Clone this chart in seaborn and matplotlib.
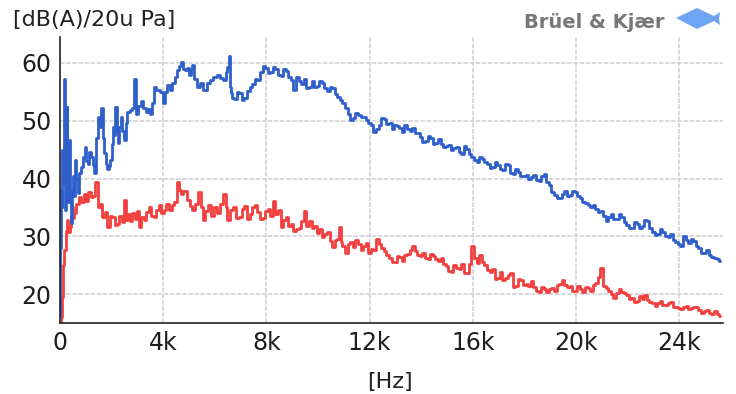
import matplotlib
matplotlib.use("Agg")
import numpy as np
import pandas as pd
import seaborn as sns
import matplotlib.pyplot as plt
from matplotlib.patches import Polygon

# frequency in kHz, level in dB(A)
blue_khz = [0.00, 0.02, 0.04, 0.08, 0.10, 0.13, 0.15, 0.17, 0.20, 0.22, 0.25, 0.27, 0.30, 0.32, 0.35,
            0.37, 0.40, 0.43, 0.47, 0.52, 0.56, 0.61, 0.66, 0.71, 0.78, 0.84, 0.92, 1.00, 1.05, 1.10,
            1.17, 1.23, 1.30, 1.36, 1.42, 1.49, 1.56, 1.65, 1.70, 1.74, 1.80, 1.85, 1.92, 1.98, 2.03,
            2.07, 2.12, 2.17, 2.22, 2.26, 2.33, 2.39, 2.45, 2.52, 2.58, 2.65, 2.75, 2.85, 2.91, 2.97,
            3.08, 3.19, 3.27, 3.36, 3.45, 3.55, 3.62, 3.68, 3.80, 3.94, 4.04, 4.12, 4.20, 4.30, 4.39,
            4.50, 4.59, 4.66, 4.72, 4.80, 4.91, 4.97, 5.04, 5.10, 5.17, 5.25, 5.36, 5.48, 5.62, 5.75,
            5.88, 6.00, 6.14, 6.27, 6.40, 6.46, 6.52, 6.56, 6.60, 6.65,
            6.7, 6.8, 6.9, 7.0, 7.1, 7.2, 7.3, 7.4, 7.5, 7.6, 7.7, 7.8, 7.9, 8.0, 8.1, 8.2, 8.3,
            8.4, 8.5, 8.6, 8.7, 8.8, 8.9, 9.0, 9.1, 9.2, 9.3, 9.4, 9.5, 9.6, 9.7, 9.8, 9.9, 10.0,
            10.1, 10.2, 10.3, 10.4, 10.5, 10.6, 10.7, 10.8, 10.9, 11.0, 11.1, 11.2, 11.3, 11.4, 11.5,
            11.6, 11.7, 11.8, 11.9, 12.0, 12.1, 12.2, 12.3, 12.4, 12.5, 12.6, 12.7, 12.8, 12.9, 13.0,
            13.1, 13.2, 13.3, 13.4, 13.5, 13.6, 13.7, 13.8, 13.9, 14.0, 14.1, 14.2, 14.3, 14.4, 14.5,
            14.6, 14.7, 14.8, 14.9, 15.0, 15.1, 15.2, 15.3, 15.4, 15.5, 15.6, 15.7, 15.8, 15.9, 16.0,
            16.1, 16.2, 16.3, 16.4, 16.5, 16.6, 16.7, 16.8, 16.9, 17.0, 17.1, 17.2, 17.3, 17.4, 17.5,
            17.6, 17.7, 17.8, 17.9, 18.0, 18.1, 18.2, 18.3, 18.4, 18.5, 18.6, 18.7, 18.8, 18.9, 19.0,
            19.1, 19.2, 19.3, 19.4, 19.5, 19.6, 19.7, 19.8, 19.9, 20.0, 20.1, 20.2, 20.3, 20.4, 20.5,
            20.6, 20.7, 20.8, 20.9, 21.0, 21.1, 21.2, 21.3, 21.4, 21.5, 21.6, 21.7, 21.8, 21.9, 22.0,
            22.1, 22.2, 22.3, 22.4, 22.5, 22.6, 22.7, 22.8, 22.9, 23.0, 23.1, 23.2, 23.3, 23.4, 23.5,
            23.6, 23.7, 23.8, 23.9, 24.0, 24.1, 24.2, 24.3, 24.4, 24.5, 24.6, 24.7, 24.8, 24.9, 25.0,
            25.1, 25.2, 25.3, 25.4, 25.5, 25.6]
blue_db = [16.0, 28.0, 38.0, 35.0, 45.0, 39.2, 50.0, 57.2, 40.0, 34.5, 44.0, 52.4, 40.0, 36.0, 42.0,
           46.7, 38.0, 32.3, 38.0, 40.4, 37.0, 43.2, 40.0, 37.5, 41.0, 42.0, 43.8, 45.5, 43.0, 42.6,
           44.6, 43.8, 42.4, 41.0, 47.0, 50.6, 49.0, 52.2, 47.0, 44.4, 42.6, 41.6, 42.2, 43.2, 46.0,
           48.9, 47.6, 52.4, 48.2, 46.2, 49.0, 50.6, 48.2, 46.7, 49.6, 51.5, 51.8, 52.2, 57.2, 51.2,
           52.6, 53.4, 52.2, 51.5, 52.0, 51.2, 53.0, 55.9, 55.4, 55.0, 53.1, 55.0, 56.2, 55.4, 56.5,
           57.6, 58.8, 59.4, 60.2, 59.0, 58.8, 59.2, 57.9, 59.0, 59.6, 57.2, 55.9, 56.6, 55.3, 56.6,
           57.1, 57.6, 57.9, 57.4, 57.1, 58.4, 59.3, 61.2, 55.9, 54.8,
           54.0, 53.8, 54.9, 54.8, 53.6, 53.9, 55.2, 55.8, 56.4, 57.2, 57.0, 58.4, 59.4, 59.2, 58.2,
           58.5, 59.3, 59.0, 58.0, 57.8, 58.9, 58.6, 57.6, 57.0, 55.3, 57.5, 56.8, 56.4, 57.2, 55.6,
           55.8, 56.9, 55.8, 56.0, 56.9, 56.5, 55.6, 55.2, 55.9, 55.6, 54.6, 54.2, 53.6, 53.0, 52.2,
           51.2, 50.2, 50.4, 51.3, 51.0, 50.6, 50.6, 50.2, 49.6, 49.3, 48.0, 48.6, 49.2, 50.4, 50.3,
           49.4, 49.6, 48.6, 49.3, 49.1, 48.8, 48.0, 49.2, 48.6, 48.2, 48.8, 47.8, 47.9, 47.2, 46.4,
           46.5, 47.3, 47.0, 46.0, 46.2, 46.8, 46.0, 45.4, 45.6, 45.8, 45.0, 45.3, 45.5, 44.6, 44.3,
           45.6, 45.2, 44.2, 43.8, 43.2, 42.8, 43.7, 43.4, 42.8, 42.6, 41.8, 42.0, 42.8, 42.4, 41.6,
           41.5, 42.6, 42.3, 41.0, 40.8, 41.6, 41.2, 40.4, 40.4, 40.6, 40.0, 40.2, 40.6, 39.8, 39.6,
           40.4, 40.8, 39.4, 38.8, 37.6, 37.2, 36.6, 36.6, 37.4, 37.9, 37.0, 37.2, 37.8, 37.6, 37.0,
           36.6, 36.0, 35.8, 35.4, 35.0, 35.4, 34.8, 34.2, 34.4, 33.6, 32.6, 33.4, 33.8, 33.0, 33.0,
           33.8, 33.4, 32.4, 32.0, 31.4, 31.5, 32.4, 32.2, 31.4, 31.8, 32.8, 32.6, 31.4, 30.8, 30.2,
           30.4, 31.2, 30.8, 30.0, 29.8, 30.4, 29.4, 29.0, 28.6, 28.4, 30.0, 29.4, 28.8, 29.6, 29.2,
           28.4, 28.0, 27.2, 27.2, 27.6, 26.8, 26.4, 26.2, 26.0, 25.8]

red_khz = [0.00, 0.04, 0.09, 0.14, 0.19, 0.25, 0.30, 0.35, 0.39, 0.44, 0.48, 0.53, 0.58, 0.68, 0.78,
           0.88, 0.97, 1.05, 1.15, 1.23, 1.32, 1.42, 1.49, 1.58, 1.68, 1.78, 1.87, 1.97, 2.07, 2.17,
           2.26, 2.35, 2.45, 2.52, 2.58, 2.68, 2.76, 2.84, 2.95, 3.02, 3.10, 3.20, 3.29, 3.39, 3.49,
           3.58, 3.68, 3.78, 3.88, 3.98, 4.07, 4.17, 4.28, 4.39, 4.48, 4.56, 4.64, 4.72, 4.85, 4.97,
           5.07, 5.17, 5.30, 5.43, 5.50, 5.56, 5.68, 5.81, 5.93, 6.04, 6.14, 6.25, 6.40, 6.46, 6.52,
           6.65, 6.78,
           6.9, 7.0, 7.1, 7.2, 7.3, 7.4, 7.5, 7.6, 7.7, 7.8, 7.9, 8.0, 8.1, 8.2, 8.3, 8.4, 8.5,
           8.6, 8.7, 8.8, 8.9, 9.0, 9.1, 9.2, 9.3, 9.4, 9.5, 9.6, 9.7, 9.8, 9.9, 10.0, 10.1, 10.2,
           10.3, 10.4, 10.5, 10.6, 10.7, 10.8, 10.85, 10.9, 11.0, 11.1, 11.2, 11.3, 11.4, 11.5, 11.6,
           11.7, 11.8, 11.9, 12.0, 12.1, 12.2, 12.3, 12.4, 12.5, 12.6, 12.7, 12.8, 12.9, 13.0, 13.1,
           13.2, 13.3, 13.4, 13.5, 13.6, 13.7, 13.8, 13.9, 14.0, 14.1, 14.2, 14.3, 14.4, 14.5, 14.6,
           14.7, 14.8, 14.9, 15.0, 15.1, 15.2, 15.3, 15.4, 15.5, 15.6, 15.7, 15.8, 15.9, 16.0, 16.1,
           16.2, 16.3, 16.4, 16.5, 16.6, 16.7, 16.8, 16.9, 17.0, 17.1, 17.2, 17.3, 17.4, 17.5, 17.6,
           17.7, 17.8, 17.9, 18.0, 18.1, 18.2, 18.3, 18.4, 18.5, 18.6, 18.7, 18.8, 18.9, 19.0, 19.1,
           19.2, 19.3, 19.4, 19.5, 19.6, 19.7, 19.8, 19.9, 20.0, 20.1, 20.2, 20.3, 20.4, 20.5, 20.6,
           20.7, 20.8, 20.9, 21.0, 21.1, 21.2, 21.3, 21.4, 21.5, 21.6, 21.7, 21.8, 21.9, 22.0, 22.1,
           22.2, 22.3, 22.4, 22.5, 22.6, 22.7, 22.8, 22.9, 23.0, 23.1, 23.2, 23.3, 23.4, 23.5, 23.6,
           23.7, 23.8, 23.9, 24.0, 24.1, 24.2, 24.3, 24.4, 24.5, 24.6, 24.7, 24.8, 24.9, 25.0, 25.1,
           25.2, 25.3, 25.4, 25.5, 25.6]
red_db = [15.0, 16.0, 19.5, 25.0, 27.6, 31.0, 32.8, 30.8, 31.7, 33.6, 35.0, 33.2, 34.0, 35.6, 36.8,
          36.0, 37.3, 36.2, 37.6, 36.8, 37.0, 39.4, 35.0, 35.6, 33.3, 34.2, 31.7, 33.6, 33.3, 32.0,
          32.2, 33.6, 32.4, 36.3, 32.8, 33.8, 32.6, 34.0, 33.0, 34.4, 31.7, 33.4, 32.8, 34.2, 35.0,
          33.6, 33.3, 34.6, 35.4, 34.0, 34.5, 35.6, 34.6, 35.4, 36.0, 39.4, 38.0, 37.3, 37.8, 36.3,
          35.2, 34.5, 35.6, 37.6, 35.0, 32.8, 34.4, 35.4, 33.6, 35.0, 34.0, 35.6, 37.3, 35.0, 32.8,
          34.6, 35.0,
          33.2, 33.4, 34.8, 35.2, 33.0, 33.8, 35.0, 35.4, 34.2, 33.0, 33.2, 34.4, 34.8, 33.6, 36.2,
          33.8, 34.6, 31.6, 32.8, 33.4, 31.8, 32.2, 31.0, 31.2, 31.4, 32.6, 34.4, 31.8, 32.6, 31.4,
          31.8, 30.6, 31.2, 29.8, 30.4, 30.8, 29.2, 28.2, 29.4, 29.6, 31.6, 29.0, 28.4, 27.1, 28.6,
          29.0, 28.2, 29.3, 28.6, 27.6, 28.4, 28.9, 27.2, 27.8, 27.6, 29.6, 28.6, 28.0, 27.4, 26.8,
          26.2, 25.6, 25.5, 26.6, 26.4, 25.8, 26.8, 27.0, 27.6, 28.4, 27.4, 26.8, 26.6, 27.2, 26.3,
          26.0, 27.0, 26.6, 26.0, 25.8, 26.2, 25.2, 24.8, 24.0, 23.8, 25.0, 24.6, 24.4, 25.2, 23.6,
          23.6, 25.2, 28.4, 26.2, 25.4, 26.8, 25.5, 25.0, 24.2, 23.8, 24.4, 22.6, 22.8, 23.8, 22.4,
          22.8, 23.3, 23.6, 21.2, 21.4, 22.6, 22.4, 21.6, 21.8, 21.4, 22.2, 21.2, 20.6, 20.3, 21.2,
          20.8, 20.4, 20.8, 21.0, 20.6, 21.6, 21.8, 22.4, 21.6, 21.2, 21.4, 20.6, 20.6, 21.4, 20.8,
          20.4, 21.2, 21.0, 20.6, 21.6, 22.0, 23.0, 24.6, 21.4, 21.0, 20.6, 20.0, 19.4, 20.2, 20.8,
          20.4, 20.2, 19.8, 19.2, 19.4, 18.6, 18.8, 19.6, 19.2, 19.8, 19.0, 18.6, 18.4, 18.0, 18.4,
          18.8, 18.2, 18.2, 18.5, 18.6, 17.8, 17.8, 17.6, 17.4, 17.8, 18.0, 17.4, 17.6, 17.8, 17.8,
          17.2, 16.8, 17.0, 17.2, 16.8, 16.6, 17.0, 16.6, 16.2]

x_ticks = [0, 4000, 8000, 12000, 16000, 20000, 24000]
x_tick_labels = ["0", "4k", "8k", "12k", "16k", "20k", "24k"]
y_ticks = [20, 30, 40, 50, 60]

blue = pd.DataFrame({"f": np.array(blue_khz) * 1000, "db": blue_db})
red = pd.DataFrame({"f": np.array(red_khz) * 1000, "db": red_db})

sns.set_style("white")
plt.rcParams["font.family"] = ["DejaVu Sans"]

W, H = 736, 394
fig = plt.figure(figsize=(W / 100, H / 100), dpi=100)
ax = fig.add_axes([60 / W, 71 / H, 663 / W, 286 / H])

# analyser draws the spectrum as steps
sns.lineplot(data=red, x="f", y="db", ax=ax, color="#f2403e", linewidth=2.0, estimator=None,
             sort=False, drawstyle="steps-mid")
sns.lineplot(data=blue, x="f", y="db", ax=ax, color="#2f5fcb", linewidth=2.0, estimator=None,
             sort=False, drawstyle="steps-mid")

ax.set_xlim(0, 25700)
ax.set_ylim(15, 64.5)
ax.set_xticks(x_ticks)
ax.set_xticklabels(x_tick_labels)
ax.set_yticks(y_ticks)
ax.tick_params(axis="both", labelsize=17, direction="out", length=4, width=1, colors="#1e1e1e", pad=2)
ax.grid(True, color="#cfcfd4", linewidth=1.1, linestyle=(0, (3, 1)))
ax.set_axisbelow(True)
ax.set_xlabel("")
ax.set_ylabel("")
for s in ["top", "right"]:
    ax.spines[s].set_visible(False)
for s in ["left", "bottom"]:
    ax.spines[s].set_color("#222222")
    ax.spines[s].set_linewidth(1.2)

fig.text(13 / W, 1 - 20 / H, "[dB(A)/20u Pa]", fontsize=16, color="#222222", ha="left", va="center")
fig.text(390 / W, 1 - 382 / H, "[Hz]", fontsize=16, color="#222222", ha="center", va="center")
fig.text(665 / W, 1 - 22 / H, "Brüel & Kjær", fontsize=14, fontweight="bold", color="#555555",
         ha="right", va="center", alpha=0.8)

# little blue diamond logo next to the brand name
logo = [(676, 18), (697, 8), (714, 16), (720, 12), (719, 19), (720, 25), (714, 21), (697, 29)]
fig.add_artist(Polygon([(x / W, 1 - y / H) for x, y in logo], closed=True,
                       transform=fig.transFigure, facecolor="#6ea4f2", edgecolor="none"))

plt.savefig("out.png", dpi=100)
